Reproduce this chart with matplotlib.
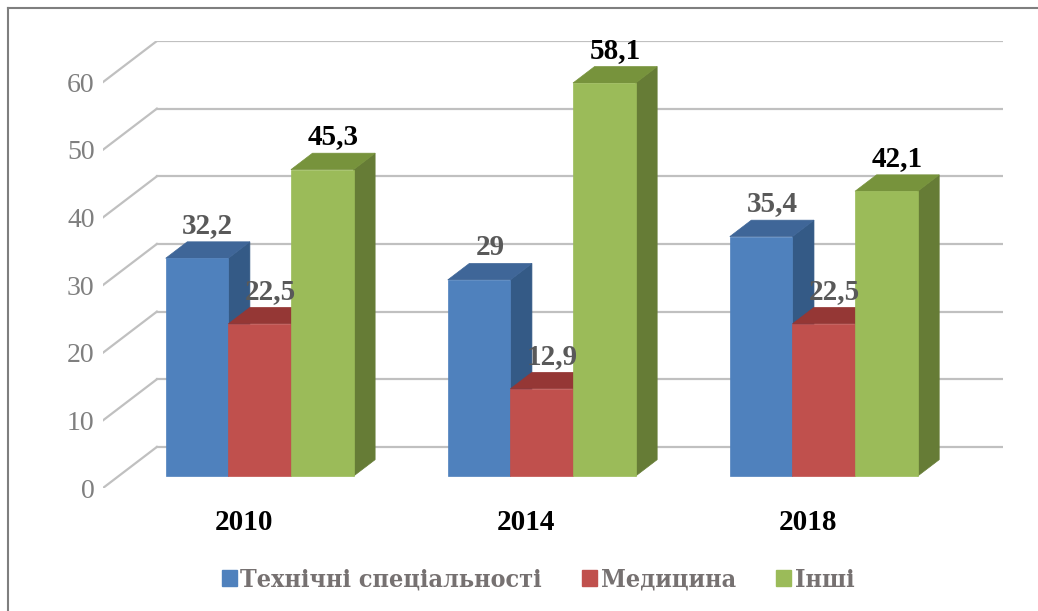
import matplotlib.pyplot as plt
from matplotlib.patches import Polygon, Patch
from matplotlib.lines import Line2D

plt.rcParams['font.family'] = ['Liberation Serif', 'DejaVu Serif']

years = ['2010', '2014', '2018']
series = ['Технічні спеціальності', 'Медицина', 'Інші']
tech = [32.2, 29, 35.4]
med = [22.5, 12.9, 22.5]
other = [45.3, 58.1, 42.1]
labels_txt = [['32,2', '29', '35,4'], ['22,5', '12,9', '22,5'], ['45,3', '58,1', '42,1']]

face = ['#4f81bd', '#c0504d', '#9bbb59']
side = ['#345a86', '#8a3634', '#667c36']
top = ['#3f6698', '#953735', '#77933c']
label_col = ['#595959', '#595959', 'black']

# oblique depth vector (x units, value units)
DX, DY = 0.191, 6.07
d0, dep = 0.29, 0.40
w = 0.222

fig = plt.figure(figsize=(10.38, 6.11), dpi=100)
ax = fig.add_axes([103 / 1038, (611 - 488) / 611, 900 / 1038, 447 / 611])
ax.set_xlim(0, 3 + DX)
ax.set_ylim(0, 60 + DY)

# walls / gridlines
grid_c = '#c0c0c0'
for v in range(0, 61, 10):
    ax.plot([0, DX], [v, v + DY], color=grid_c, lw=1.6, zorder=1)
    ax.plot([DX, 3 + DX], [v + DY, v + DY], color=grid_c, lw=1.6, zorder=1)

data = [tech, med, other]
z = 2
for i, yr in enumerate(years):
    for s in range(3):
        v = data[s][i]
        x0 = i + 0.5 - 1.5 * w + s * w + d0 * DX
        y0 = d0 * DY
        ox, oy = dep * DX, dep * DY
        front = Polygon([(x0, y0), (x0 + w, y0), (x0 + w, y0 + v), (x0, y0 + v)],
                        closed=True, fc=face[s], ec=face[s], lw=0.5, zorder=z)
        sd = Polygon([(x0 + w, y0), (x0 + w + ox, y0 + oy), (x0 + w + ox, y0 + v + oy),
                      (x0 + w, y0 + v)], closed=True, fc=side[s], ec=side[s], lw=0.5, zorder=z)
        tp = Polygon([(x0, y0 + v), (x0 + w, y0 + v), (x0 + w + ox, y0 + v + oy),
                      (x0 + ox, y0 + v + oy)], closed=True, fc=top[s], ec=top[s], lw=0.5, zorder=z)
        ax.add_patch(sd)
        ax.add_patch(tp)
        ax.add_patch(front)
        z += 1
        ax.text(x0 + w / 2 + ox / 2, y0 + v + oy + 0.4, labels_txt[s][i],
                ha='center', va='bottom', fontsize=21, fontweight='bold',
                color=label_col[s], zorder=20)

ax.set_xticks([0.5, 1.5, 2.5])
ax.set_xticklabels(years, fontsize=21, fontweight='bold', color='black')
ax.tick_params(axis='x', length=0, pad=15)
ax.set_yticks(range(0, 61, 10))
ax.set_yticklabels([str(v) for v in range(0, 61, 10)], fontsize=20, color='#7f7f7f')
ax.tick_params(axis='y', length=0, pad=6)
for sp in ax.spines.values():
    sp.set_visible(False)

handles = [Patch(fc=face[s], ec=face[s], label=series[s]) for s in range(3)]
leg = fig.legend(handles=handles, loc='center', bbox_to_anchor=(538 / 1038, 31 / 611),
                 ncol=3, frameon=False,
                 prop={'family': ['DejaVu Serif'], 'weight': 'bold', 'size': 18,
                       'stretch': 'condensed'},
                 handlelength=0.6, handleheight=0.6,
                 handletextpad=0.15, columnspacing=1.6)
for t in leg.get_texts():
    t.set_color('#767171')

# outer frame (only top and left visible)
fig.add_artist(Line2D([8 / 1038, 8 / 1038], [0, 1 - 8 / 611], transform=fig.transFigure, color='#7f7f7f', lw=1.5))
fig.add_artist(Line2D([8 / 1038, 1], [1 - 8 / 611, 1 - 8 / 611], transform=fig.transFigure, color='#7f7f7f', lw=1.5))

fig.savefig('out.png', dpi=100)
